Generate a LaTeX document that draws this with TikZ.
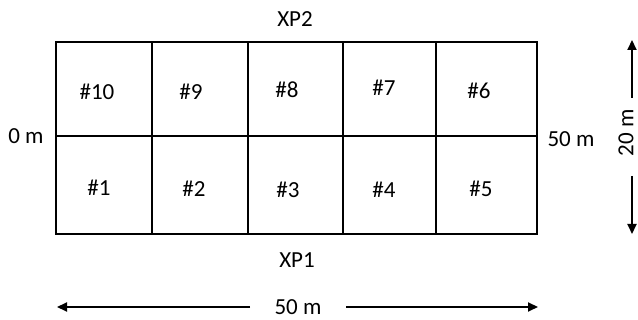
\documentclass[tikz,border=0pt]{standalone}
\usepackage{fontspec}
\setmainfont{Carlito}
\usetikzlibrary{arrows.meta}
\begin{document}
\begin{tikzpicture}[x=1pt,y=-1pt,
  lbl/.style={inner sep=0pt,font=\fontsize{23}{27}\selectfont},
  gridline/.style={line width=2pt},
  arr/.style={line width=2pt,-{Triangle[length=10pt,width=9pt]}}]
\useasboundingbox (0,0) rectangle (638,320);
% grid
\draw[gridline] (56,42.5) rectangle (537,234);
\draw[gridline] (56,136.5) -- (537,136.5);
\foreach \xx in {152,248,343,436} \draw[gridline] (\xx,42.5) -- (\xx,234);
% cell labels
\node[lbl] (c10) at (97,92) {\#10};
\node[lbl] (c9) at (191,92) {\#9};
\node[lbl] (c8) at (287,90) {\#8};
\node[lbl] (c7) at (384,88) {\#7};
\node[lbl] (c6) at (479,91) {\#6};
\node[lbl] (c1) at (99,188) {\#1};
\node[lbl] (c2) at (194,189) {\#2};
\node[lbl] (c3) at (288,190) {\#3};
\node[lbl] (c4) at (384,190) {\#4};
\node[lbl] (c5) at (481,189) {\#5};
% side labels
\node[lbl] (xp2) at (295,19) {XP2};
\node[lbl] (xp1) at (297,260) {XP1};
\node[lbl] (zero) at (26,136) {0 m};
\node[lbl] (fifty) at (571,139) {50 m};
% horizontal dimension
\node[lbl] (hdim) at (298,307) {50 m};
\coordinate (hl) at (57,307);
\coordinate (hr) at (538,307);
\coordinate (hls) at (250,307);
\coordinate (hrs) at (346,307);
\draw[arr] (hls) -- (hl);
\draw[arr] (hrs) -- (hr);
% vertical dimension
\node[lbl,rotate=90] (vdim) at (626,133) {20 m};
\coordinate (vt) at (632,40);
\coordinate (vb) at (632,234);
\coordinate (vts) at (632,98);
\coordinate (vbs) at (632,176);
\draw[arr] (vts) -- (vt);
\draw[arr] (vbs) -- (vb);
\end{tikzpicture}
\end{document}
